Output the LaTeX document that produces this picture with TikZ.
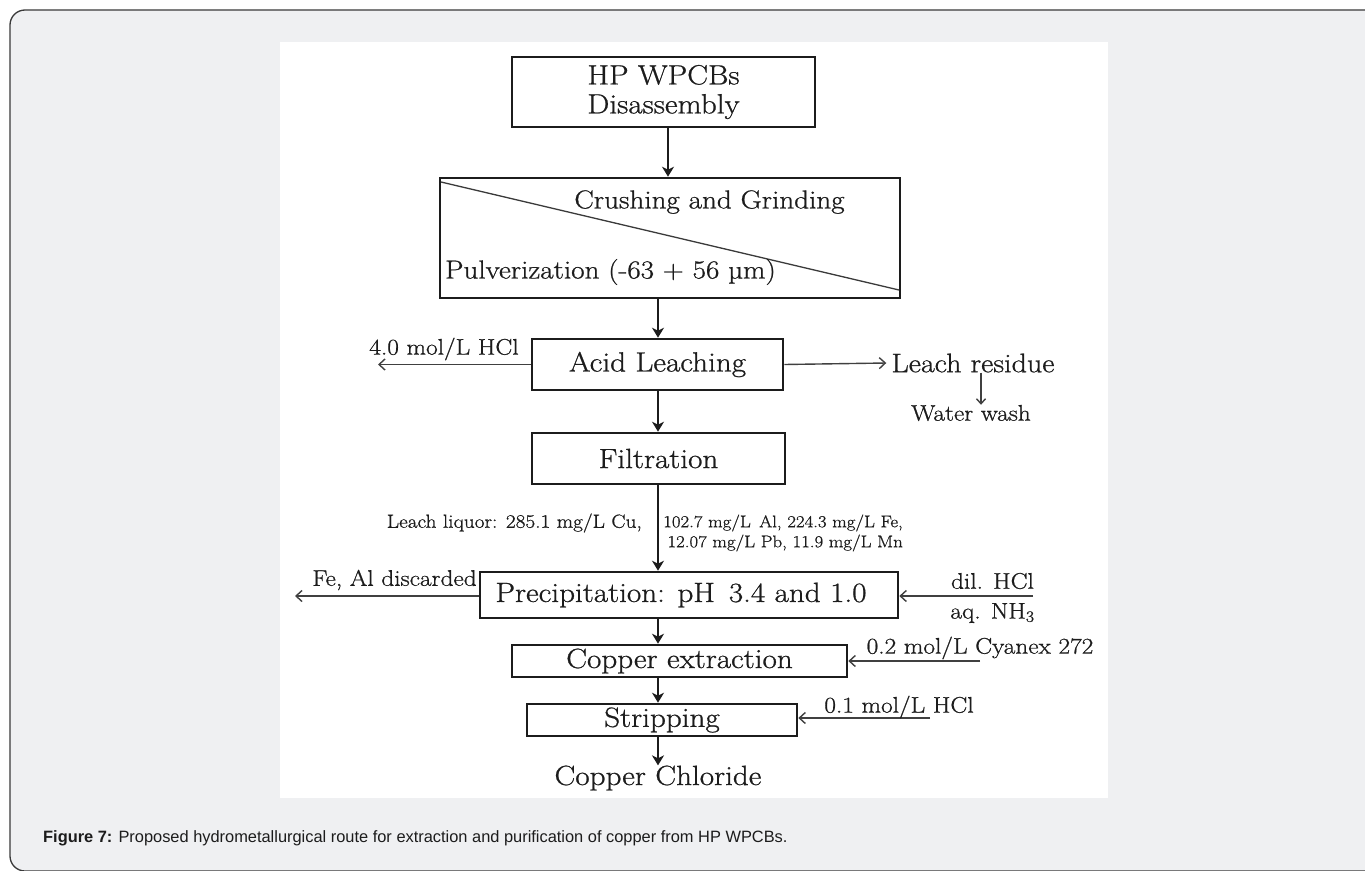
\documentclass[tikz,border=0pt]{standalone}
\usepackage{fontspec}
\setmainfont{Latin Modern Roman}[FakeStretch=1.12, FakeBold=0.8]
\newfontfamily\capfont{Liberation Sans}
\usetikzlibrary{arrows.meta}
\definecolor{bgray}{HTML}{EFF0F2}
\definecolor{framec}{HTML}{3A3A3A}
\definecolor{ink}{HTML}{1C1C1C}
\definecolor{side}{HTML}{404040}
\begin{document}
\begin{tikzpicture}[x=1pt,y=-1pt,
  box/.style={draw=ink, line width=2.6pt, inner sep=0pt, text=ink, align=center,
    font=\fontsize{27.8}{29}\selectfont},
  boxtext/.style={text=ink, inner sep=0pt, font=\fontsize{27.8}{29}\selectfont},
  splittext/.style={text=ink, inner sep=0pt, font=\fontsize{26}{28}\selectfont},
  flow/.style={draw=ink, line width=2.6pt, -{Stealth[length=10pt,width=12pt,inset=3pt]}},
  sidearrow/.style={draw=side, line width=1.4pt, -{Straight Barb[length=6pt,width=11pt]}},
  lab/.style={text=ink, inner sep=0pt, font=\fontsize{22.6}{24}\selectfont},
  biglab/.style={text=ink, inner sep=0pt, font=\fontsize{26.8}{28}\selectfont},
  smalllab/.style={text=ink, inner sep=0pt, font=\fontsize{19}{20}\selectfont},
  tinylab/.style={text=ink, inner sep=0pt, align=right, font=\fontsize{16.8}{20}\selectfont}]
\useasboundingbox (0,0) rectangle (1365,870);
\fill[white] (0,0) rectangle (1365,870);
\begin{scope}
  \clip (0,0) rectangle (1365,870);
  \draw[fill=bgray, draw=framec, line width=1.3pt, rounded corners=15pt] (10,10) rectangle (1400,871);
\end{scope}
\fill[white] (280,42) rectangle (1108,798);

% axes
\coordinate (axA) at (668,0);
\coordinate (ax) at (658,0);

% boxes
\node[box, minimum width=303pt, minimum height=70pt] (b1) at (663.5,92) {HP WPCBs\\Disassembly};
\node[box, minimum width=460pt, minimum height=120pt] (b2) at (670,238) {};
\coordinate (d1) at (441,182);
\coordinate (d2) at (899,290);
\draw[draw=framec, line width=1.3pt] (d1) -- (d2);
\node[splittext] (crush) at (709.5,202) {Crushing and Grinding};
\node[splittext] (pulv) at (610.5,272) {Pulverization (-63 + 56 µm)};
\node[box, minimum width=251pt, minimum height=51pt] (b3) at (657.5,364.5) {Acid Leaching};
\node[box, minimum width=253pt, minimum height=51pt] (b4) at (658.5,458.5) {Filtration};
\node[box, minimum width=418pt, minimum height=46pt] (b5) at (689,595) {};
\node[boxtext] (b5t) at (681,595) {Precipitation: pH\enspace 3.4 and 1.0};
\node[box, minimum width=335pt, minimum height=32pt] (b6) at (679.5,661) {Copper extraction};
\node[box, minimum width=270pt, minimum height=32pt] (b7) at (662,720) {Stripping};
\node[boxtext] (cucl) at (658,778) {Copper Chloride};

% main flow
\draw[flow] (b1.south -| axA) -- (b2.north -| axA);
\draw[flow] (b2.south -| ax) -- (b3.north -| ax);
\draw[flow] (b3.south -| ax) -- (b4.north -| ax);
\draw[flow] (b4.south -| ax) -- (b5.north -| ax);
\draw[flow] (b5.south -| ax) -- (b6.north -| ax);
\draw[flow] (b6.south -| ax) -- (b7.north -| ax);
\draw[flow] (b7.south -| ax) -- (cucl.north -| ax);

% acid leaching side streams
\coordinate (t1) at (378,364.5);
\draw[sidearrow] (b3.west) -- (t1);
\node[lab] (hcl4) at (444,349) {4.0 mol/L HCl};
\node[biglab, inner xsep=5pt] (res) at (973,363) {Leach residue};
\draw[sidearrow] (b3.east) -- (res.west);
\coordinate (wx) at (981,0);
\node[lab] (ww) at (971,413) {Water wash};
\draw[side, line width=1.4pt, -{Straight Barb[length=5pt,width=9pt]}] (res.south -| wx) -- (ww.north -| wx);

% leach liquor labels
\node[smalllab, anchor=east] (liq1) at (642,523) {Leach liquor: 285.1 mg/L Cu,};
\node[tinylab, anchor=east] (liq2) at (903,533) {102.7 mg/L\enspace Al, 224.3 mg/L Fe,\\12.07 mg/L Pb, 11.9 mg/L Mn};

% precipitation side streams
\coordinate (t2) at (295,596);
\draw[sidearrow] (b5.west |- t2) -- (t2);
\node[lab] (feal) at (394.5,580) {Fe, Al discarded};
\coordinate (s3) at (1033,596);
\draw[sidearrow] (s3) -- (b5.east |- s3);
\node[lab] (dil) at (992.5,581) {dil. HCl};
\node[lab] (nh3) at (992.5,613) {aq. NH\textsubscript{3}};

% copper extraction
\coordinate (s4) at (980,661);
\draw[sidearrow] (s4) -- (b6.east);
\node[lab] (cyan) at (980,648) {0.2 mol/L Cyanex 272};

% stripping
\coordinate (s5) at (930,718);
\draw[sidearrow] (s5) -- (b7.east |- s5);
\node[lab] (hcl01) at (899,707) {0.1 mol/L HCl};

% caption
\node[anchor=west, inner sep=0pt, text=ink, font=\capfont\fontsize{16.4}{19}\selectfont] (cap) at (43,838)
  {\textbf{Figure 7:} Proposed hydrometallurgical route for extraction and purification of copper from HP WPCBs.};
\end{tikzpicture}
\end{document}
